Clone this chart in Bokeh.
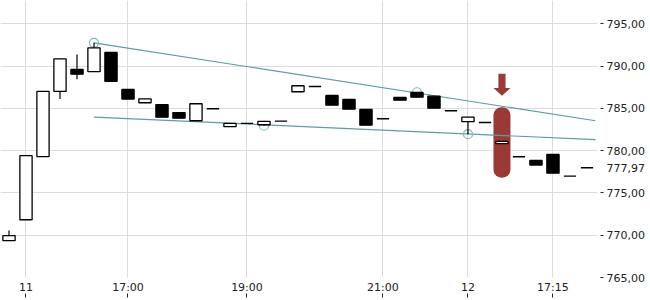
from bokeh.plotting import figure
from bokeh.models import FixedTicker, Range1d, LinearAxis
from bokeh.embed import file_html
from bokeh.resources import INLINE

# ---- data ----
opens  = [769.35, 771.83, 779.30, 787.00, 789.60, 789.33, 791.60, 787.23, 785.66, 785.43,
          784.50, 783.53, 784.95, 782.83, 783.22, 783.06, 783.49, 786.96, 787.59, 786.52,
          786.05, 784.87, 783.77, 786.29, 786.88, 786.44, 784.72, 783.42, 783.33, 780.82,
          779.28, 778.84, 779.55, 776.99, 777.97]
closes = [769.94, 779.40, 787.00, 790.86, 789.04, 792.16, 788.20, 786.09, 786.13, 783.96,
          783.84, 785.54, 784.95, 783.22, 783.22, 783.45, 783.49, 787.67, 787.59, 785.38,
          784.90, 783.01, 783.77, 785.97, 786.32, 785.02, 784.72, 783.96, 783.33, 781.09,
          779.28, 778.29, 777.34, 776.99, 777.97]
highs  = [770.57, 779.40, 787.00, 790.86, 791.37, 792.75, 791.60, 787.23, 786.13, 785.43,
          784.50, 785.54, 784.95, 783.22, 783.22, 783.45, 783.49, 787.67, 787.59, 786.52,
          786.05, 784.87, 783.77, 786.29, 786.90, 786.44, 784.72, 783.96, 783.33, 781.09,
          779.28, 778.84, 779.55, 776.99, 777.97]
lows   = [769.35, 771.83, 779.30, 786.09, 788.45, 789.33, 788.20, 786.09, 785.66, 783.96,
          783.84, 783.53, 784.95, 782.83, 783.22, 782.94, 783.49, 786.96, 787.59, 785.38,
          784.90, 783.01, 783.77, 785.97, 786.32, 785.02, 784.72, 781.95, 783.33, 780.82,
          779.28, 778.29, 777.34, 776.99, 777.97]

tick_idx = [1, 7, 14, 22, 27, 32]
tick_labels = ["11", "17:00", "19:00", "21:00", "12", "17:15"]
y_ticks = [765, 770, 775, 780, 785, 790, 795]

upper_x = [5, 34.5]
upper_y = [792.75, 783.53]
lower_x = [5, 34.5]
lower_y = [783.97, 781.29]
pivot_x = [5, 15, 24, 27]
pivot_y = [792.75, 782.94, 786.90, 781.95]

signal_idx = 29
signal_top = 785.14
signal_bottom = 776.80
arrow_top = 789.09
arrow_neck = 787.40
arrow_tip = 786.50

last_close = closes[-1]


def fmt(v):
    return f"{v:.2f}".replace(".", ",")


# ---- figure ----
n = len(opens)
xs = list(range(n))
p = figure(width=650, height=300, output_backend="svg", toolbar_location=None,
           y_axis_location="right", x_range=Range1d(-0.5, 34.62),
           y_range=Range1d(765, 797.75),
           min_border_left=0, min_border_top=0, min_border_right=53, min_border_bottom=23)
p.outline_line_color = None
p.background_fill_color = "white"
p.border_fill_color = "white"

grid_col = "#dcdcdc"
p.xgrid.grid_line_color = grid_col
p.ygrid.grid_line_color = grid_col

font = "DejaVu Sans"
label_col = "#222222"

# x axis
xa = p.xaxis[0]
xa.ticker = FixedTicker(ticks=tick_idx)
xa.major_label_overrides = {i: l for i, l in zip(tick_idx, tick_labels)}
xa.axis_line_color = None
xa.minor_tick_line_color = None
xa.major_tick_in = -16
xa.major_tick_out = 20
xa.major_label_standoff = -17
xa.major_tick_line_color = label_col
xa.major_label_text_font = font
xa.major_label_text_font_size = "11px"
xa.major_label_text_color = label_col

# right axis A: tick marks only (closest to the plot)
ya = p.yaxis[0]
ya.ticker = FixedTicker(ticks=y_ticks)
ya.major_label_overrides = {v: "" for v in y_ticks}
ya.major_label_text_font_size = "0px"
ya.axis_line_color = None
ya.minor_tick_line_color = None
ya.major_tick_in = -3
ya.major_tick_out = 6
ya.major_label_standoff = 0
ya.major_tick_line_color = label_col

# right axis B: price labels incl. last price, no tick marks
label_ticks = y_ticks + [last_close]
yb = LinearAxis(ticker=FixedTicker(ticks=label_ticks),
                major_label_overrides={v: fmt(v) for v in label_ticks},
                axis_line_color=None, minor_tick_line_color=None,
                major_tick_line_color=None, major_tick_in=0, major_tick_out=0,
                major_label_standoff=3,
                major_label_text_font=font, major_label_text_font_size="11px",
                major_label_text_color=label_col)
p.add_layout(yb, "right")

# signal pill and arrow
red = "#9b3a35"
p.vbar(x=[signal_idx], width=1.0, top=[signal_top], bottom=[signal_bottom],
       fill_color=red, line_color=None, border_radius=8)
sw, hw = 0.21, 0.5
p.patch(x=[signal_idx - sw, signal_idx + sw, signal_idx + sw, signal_idx + hw,
           signal_idx, signal_idx - hw, signal_idx - sw],
        y=[arrow_top, arrow_top, arrow_neck, arrow_neck, arrow_tip, arrow_neck, arrow_neck],
        fill_color=red, line_color=None)

# trend lines and pivots
teal = "#5a9ea0"
p.line(upper_x, upper_y, line_color=teal, line_width=1.2)
p.line(lower_x, lower_y, line_color=teal, line_width=1.2)
p.scatter(pivot_x, pivot_y, marker="circle", size=9, fill_color=None,
          line_color="#7fb5b6", line_width=1.2)

# candles
up = [i for i in xs if closes[i] > opens[i]]
dn = [i for i in xs if closes[i] < opens[i]]
dj = [i for i in xs if closes[i] == opens[i]]
wick = [i for i in xs if highs[i] > max(opens[i], closes[i]) or lows[i] < min(opens[i], closes[i])]

p.segment(x0=wick, x1=wick, y0=[lows[i] for i in wick], y1=[highs[i] for i in wick],
          line_color="black", line_width=1.2)
bw = 0.72
p.vbar(x=up, width=bw, top=[closes[i] for i in up], bottom=[opens[i] for i in up],
       fill_color="white", line_color="black", line_width=1.3)
p.vbar(x=dn, width=bw, top=[opens[i] for i in dn], bottom=[closes[i] for i in dn],
       fill_color="black", line_color="black", line_width=1.3)
p.segment(x0=[i - bw / 2 for i in dj], x1=[i + bw / 2 for i in dj],
          y0=[closes[i] for i in dj], y1=[closes[i] for i in dj],
          line_color="black", line_width=1.4)

open("out.html", "w").write(file_html(p, INLINE))
